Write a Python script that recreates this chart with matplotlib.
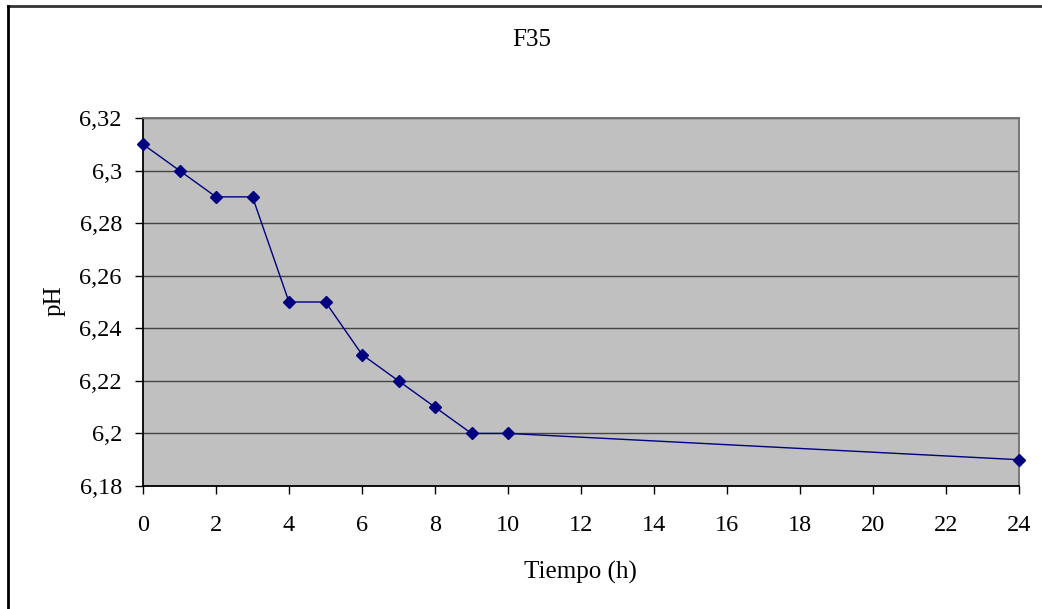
# -*- coding: utf-8 -*-
# pH vs tiempo, muestra F35

import matplotlib
matplotlib.use("Agg")
import matplotlib.pyplot as plt
from matplotlib.ticker import FuncFormatter, MultipleLocator
from matplotlib.lines import Line2D

tiempo = [0, 1, 2, 3, 4, 5, 6, 7, 8, 9, 10, 24]
ph = [6.31, 6.30, 6.29, 6.29, 6.25, 6.25, 6.23, 6.22, 6.21, 6.20, 6.20, 6.19]
titulo = "F35"
x_label = "Tiempo (h)"
y_label = "pH"


def coma(v, pos):
    return ("%g" % round(v, 4)).replace(".", ",")


plt.rcParams['font.family'] = ['Liberation Serif', 'DejaVu Serif']

W, H = 1042, 609
fig = plt.figure(figsize=(W / 100, H / 100), dpi=100)
ax = fig.add_axes([143 / W, 1 - 486 / H, 876 / W, 368 / H])
ax.set_facecolor("#c0c0c0")

ax.plot(tiempo, ph, color="#000080", lw=1, marker="D", markersize=6.5,
        markerfacecolor="#000080", markeredgecolor="#000080", clip_on=False, zorder=3)

ax.set_xlim(0, 24)
ax.set_ylim(6.18, 6.32)
ax.xaxis.set_major_locator(MultipleLocator(2))
ax.yaxis.set_major_locator(MultipleLocator(0.02))
ax.yaxis.set_major_formatter(FuncFormatter(coma))

ax.grid(axis="y", color="#444444", lw=1)
ax.set_axisbelow(True)

for s in ["left", "bottom"]:
    ax.spines[s].set_color("black")
    ax.spines[s].set_linewidth(1.3)
for s in ["top", "right"]:
    ax.spines[s].set_color("#707070")
    ax.spines[s].set_linewidth(1.3)

ax.tick_params(axis="both", direction="out", length=5.8, width=1, labelsize=17.5, colors="black")
ax.tick_params(axis="x", pad=15)
ax.tick_params(axis="y", pad=9.4)

fig.text(580 / W, 1 - 572 / H, x_label, fontsize=18, ha="center", va="center")
fig.text(55 / W, 1 - 301 / H, y_label, fontsize=18, ha="center", va="center", rotation=90)
fig.text(532 / W, 1 - 40 / H, titulo, fontsize=18, ha="center", va="center")

# borde del area del grafico
fig.add_artist(Line2D([8 / W, 1], [1 - 5.5 / H, 1 - 5.5 / H], color="#333333", lw=2))
fig.add_artist(Line2D([8 / W, 8 / W], [0, 1 - 5.5 / H], color="black", lw=2))

fig.savefig("out.png", dpi=100)
